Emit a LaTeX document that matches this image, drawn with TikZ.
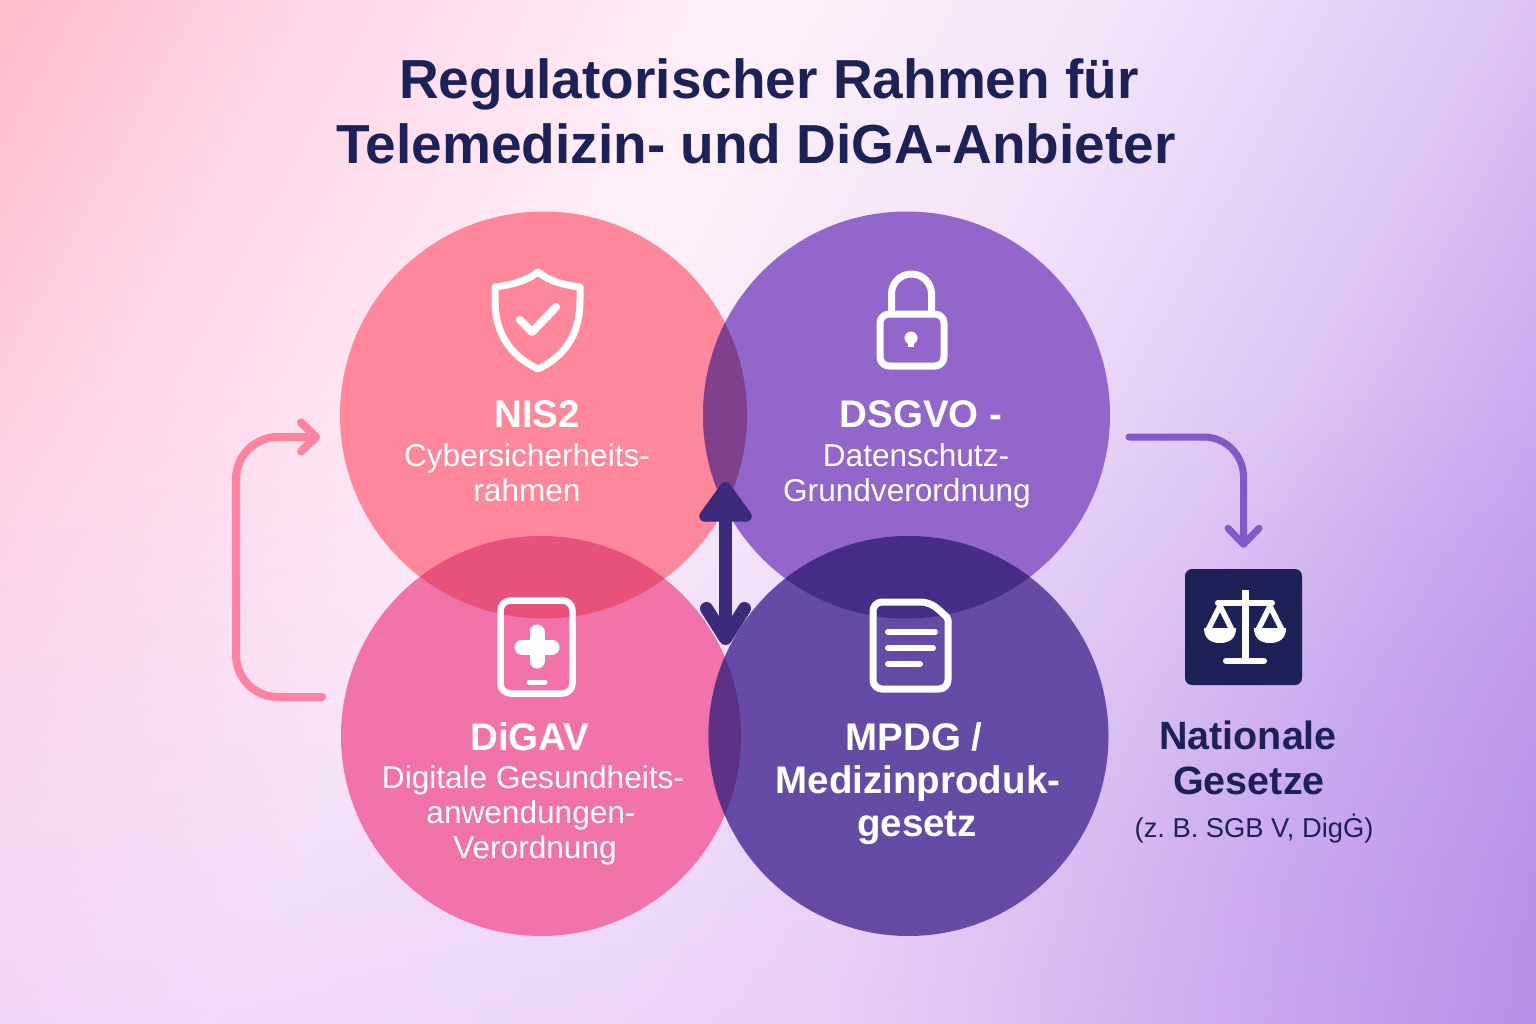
\documentclass[tikz,border=0pt]{standalone}
\usepackage{fontspec}
\setmainfont{Liberation Sans}
\frenchspacing
\usetikzlibrary{arrows.meta,fadings}
\definecolor{bga}{RGB}{255,188,202}
\definecolor{bgb}{RGB}{255,212,230}
\definecolor{bgc}{RGB}{255,240,249}
\definecolor{bgd}{RGB}{243,228,250}
\definecolor{bge}{RGB}{222,198,245}
\definecolor{bgg}{RGB}{205,175,240}
\definecolor{bgf}{RGB}{181,144,231}
\definecolor{bgl}{RGB}{234,208,247}
\definecolor{navy}{RGB}{29,33,88}
\definecolor{pinka}{RGB}{255,135,156}
\definecolor{pinkb}{RGB}{241,115,170}
\definecolor{purpa}{RGB}{146,102,202}
\definecolor{purpb}{RGB}{101,75,165}
\definecolor{lapa}{RGB}{128,64,140}
\definecolor{lapb}{RGB}{232,82,122}
\definecolor{lapc}{RGB}{70,45,135}
\definecolor{lapd}{RGB}{92,50,135}
\definecolor{arrowdark}{RGB}{60,42,125}
\definecolor{arrowpink}{RGB}{255,130,160}
\definecolor{arrowpurp}{RGB}{130,90,200}
\pgfdeclarehorizontalshading{bgfade}{100bp}{color(0bp)=(bga); color(25bp)=(bga); color(32bp)=(bgb); color(43bp)=(bgc); color(52bp)=(bgd); color(61bp)=(bge); color(66bp)=(bgg); color(75bp)=(bgf); color(100bp)=(bgf)}
\pgfdeclarehorizontalshading{lowfade}{100bp}{color(0bp)=(bgl); color(52bp)=(bgl); color(75bp)=(bgf); color(100bp)=(bgf)}
\tikzset{
  blob/.style={circle,inner sep=0pt,minimum size=#1},
  titletxt/.style={anchor=base,text=navy,font=\fontsize{55}{60}\selectfont\bfseries},
  headtxt/.style={anchor=base,text=white,font=\fontsize{38.5}{44}\selectfont\bfseries},
  subtxt/.style={anchor=base,text=white,font=\fontsize{31.6}{34}\selectfont},
  icon/.style={draw=white,line width=#1,line cap=round,line join=round},
  icon/.default=7pt
}
\begin{document}
\begin{tikzpicture}[x=1pt,y=-1pt]
  \useasboundingbox (0,0) rectangle (1536,1024);
  \begin{scope}
    \clip (0,0) rectangle (1536,1024);
    \path[shading=bgfade,shading angle=-28] (-152,-408) rectangle (1688,1432);
    \path[shading=lowfade,path fading=north,fill opacity=0.7] (-10,400) rectangle (1546,1034);
  \end{scope}
  % circles
  \node[blob=407pt,fill=pinka] (nis) at (543.5,415) {};
  \node[blob=407pt,fill=purpa] (dsgvo) at (906.5,415) {};
  \node[blob=400pt,fill=pinkb] (digav) at (541,736) {};
  \node[blob=400pt,fill=purpb] (mpdg) at (908.5,736) {};
  \begin{scope}
    \clip (543.5,415) circle (203.5pt);
    \fill[lapa] (906.5,415) circle (203.5pt);
    \fill[lapb] (541,736) circle (200pt);
  \end{scope}
  \begin{scope}
    \clip (908.5,736) circle (200pt);
    \fill[lapc] (906.5,415) circle (203.5pt);
    \fill[lapd] (541,736) circle (200pt);
  \end{scope}
  % title
  \node[titletxt] (titlea) at (769,99) {Regulatorischer Rahmen für};
  \node[titletxt] (titleb) at (756,164) {Telemedizin- und DiGA-Anbieter};
  % texts
  \node[headtxt] (nishead) at (537,427) {NIS2};
  \node[subtxt] (nissuba) at (527,466) {Cybersicherheits-};
  \node[subtxt] (nissubb) at (527,501) {rahmen};
  \node[headtxt] (dsgvohead) at (921,427) {DSGVO -};
  \node[subtxt] (dsgvosuba) at (916,466) {Datenschutz-};
  \node[subtxt] (dsgvosubb) at (907,501) {Grundverordnung};
  \node[headtxt] (digavhead) at (530,750) {DiGAV};
  \node[subtxt] (digavsuba) at (533,788) {Digitale Gesundheits-};
  \node[subtxt] (digavsubb) at (531,823) {anwendungen-};
  \node[subtxt] (digavsubc) at (535,858) {Verordnung};
  \node[headtxt] (mpdghead) at (914,750) {MPDG /};
  \node[headtxt] (mpdgsuba) at (918,793) {Medizinproduk-};
  \node[headtxt] (mpdgsubb) at (917,836) {gesetz};
  \node[headtxt,text=navy,font=\fontsize{39.5}{44}\selectfont\bfseries] (lawhead) at (1248,749) {Nationale};
  \node[headtxt,text=navy,font=\fontsize{39.5}{44}\selectfont\bfseries] (lawheadb) at (1249,794) {Gesetze};
  \node[subtxt,text=navy,font=\fontsize{27.3}{32}\selectfont] (lawsub) at (1254,837) {(z. B. SGB V, DigĠ)};
  % law box
  \node[fill=navy,rounded corners=7pt,minimum width=117pt,minimum height=116pt,inner sep=0pt] (lawbox) at (1243.5,627) {};
  % connectors
  \coordinate (loopa) at (322,697);
  \coordinate (loopb) at (236,697);
  \coordinate (loopc) at (236,437);
  \coordinate (loopd) at (320,437);
  \draw[arrowpink,line width=8pt,line cap=round,rounded corners=42pt,-{Straight Barb[length=15pt,width=29pt,round]}] (loopa) -- (loopb) -- (loopc) -- (loopd);
  \coordinate (lawstart) at (1129,437);
  \draw[arrowpurp,line width=7pt,line cap=round,rounded corners=40pt,shorten >=21pt,-{Straight Barb[length=16pt,width=31pt,round]}] (lawstart) -| (lawbox.north);
  \coordinate (updown) at (725.5,482);
  \coordinate (downup) at (725.5,645);
  \draw[arrowdark,line width=13pt,{Triangle[round,length=44pt,width=60pt,line width=11pt]}-{Straight Barb[length=30pt,width=38pt,round]}] (updown) -- (downup);
  % shield
  \draw[icon] (538,272) .. controls (525,282) and (510,285) .. (495,287) -- (495,300) .. controls (495,330) and (507,354) .. (538,369) .. controls (569,354) and (580,330) .. (580,300) -- (580,287) .. controls (565,285) and (550,282) .. (538,272) -- cycle;
  \draw[icon=8pt] (520,320) -- (532,332) -- (556,307);
  % lock
  \draw[icon] (880,314) [rounded corners=9pt] -- (944,314) -- (944,366) -- (880,366) -- cycle;
  \draw[icon,line cap=butt] (891.5,312) -- (891.5,294) arc[start angle=180,end angle=0,radius=20pt] -- (931.5,312);
  \fill[white] (911,338) circle (6.5pt);
  \draw[white,line width=6.5pt] (911,340) -- (911,347);
  % phone
  \draw[icon=6.5pt,rounded corners=10pt] (500.5,600.5) -- (572.5,600.5) -- (572.5,693.5) -- (500.5,693.5) -- cycle;
  \draw[icon=15pt] (522,647) -- (552,647);
  \draw[icon=15pt] (537,632) -- (537,661);
  \draw[icon=5pt] (529,682) -- (545,682);
  % document
  \draw[icon,rounded corners=9pt] (873,602) -- (930,602) [rounded corners=2pt] -- (948,618) [rounded corners=9pt] -- (948,689) -- (873,689) -- cycle;
  \draw[icon=6pt] (888,632) -- (935,632);
  \draw[icon=6pt] (888,648) -- (933,648);
  \draw[icon=6pt] (888,664) -- (920,664);
  % scales
  \draw[icon=7pt,line cap=butt] (1245,590) -- (1245,661);
  \draw[icon=6pt] (1226,661) -- (1264,661);
  \draw[icon=6pt] (1218,603) -- (1272,603);
  \draw[icon=5.5pt] (1208,630) -- (1220,606) -- (1232,630);
  \draw[icon=5.5pt] (1258,630) -- (1270,606) -- (1282,630);
  \fill[white] (1204,628) -- (1236,628) .. controls (1236,638) and (1230,643) .. (1220,643) .. controls (1210,643) and (1204,638) .. (1204,628) -- cycle;
  \fill[white] (1254,628) -- (1286,628) .. controls (1286,638) and (1280,643) .. (1270,643) .. controls (1260,643) and (1254,638) .. (1254,628) -- cycle;
\end{tikzpicture}
\end{document}
